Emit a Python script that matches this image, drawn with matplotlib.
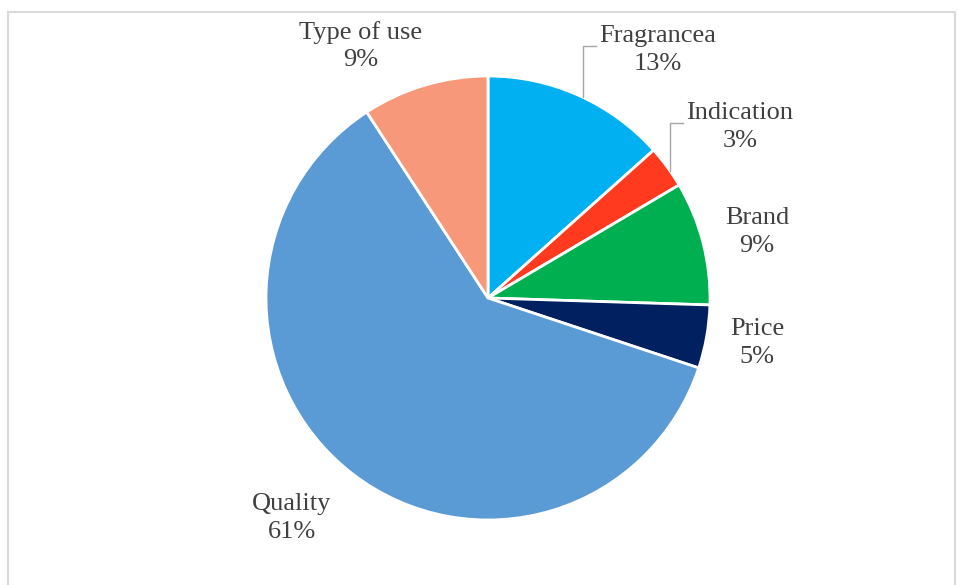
import matplotlib.pyplot as plt
import matplotlib.patches as patches
import numpy as np

labels = ['Fragrancea', 'Indication', 'Brand', 'Price', 'Quality', 'Type of use']
shares = [13.4, 3.1, 9.0, 4.6, 60.7, 9.2]
colors = ['#00B0F0', '#FF3A1E', '#00B050', '#002060', '#5B9BD5', '#F8987A']

W, H = 958, 585
fig = plt.figure(figsize=(W / 100, H / 100), dpi=100)
ax = fig.add_axes([0, 0, 1, 1])

# light frame round the chart area
fig.patches.append(patches.Rectangle((8 / W, -0.05), 947 / W, 1 - 12 / H + 0.05,
                                     transform=fig.transFigure, fill=False,
                                     edgecolor='#D9D9D9', linewidth=1.5))

cx, cy, r = 488, H - 298, 222
wedges, _ = ax.pie(shares, colors=colors, startangle=90, counterclock=False,
                   center=(cx, cy), radius=r, frame=True,
                   wedgeprops=dict(edgecolor='white', linewidth=2))
ax.set_xlim(0, W)
ax.set_ylim(0, H)
ax.set_aspect('equal')
ax.axis('off')

# label block centres (pixels from top-left)
label_pos = [(658, 50), (740, 127), (757, 232), (757, 343), (292, 518), (361, 46)]
for name, val, (tx, ty) in zip(labels, shares, label_pos):
    ax.text(tx, H - ty, f'{name}\n{round(val)}%', ha='center', va='center',
            fontsize=19, family='Liberation Serif', color='#404040',
            linespacing=1.3)

# leader lines for the two small top-right slices
def leader(x_line, y_text, x_end):
    y_arc = cy + np.sqrt(r ** 2 - (x_line - cx) ** 2)
    ax.plot([x_end, x_line, x_line], [H - y_text, H - y_text, y_arc],
            color='#A6A6A6', linewidth=1)

leader(583, 46, 596)
leader(670, 123, 683)

fig.savefig('out.png', dpi=100)
